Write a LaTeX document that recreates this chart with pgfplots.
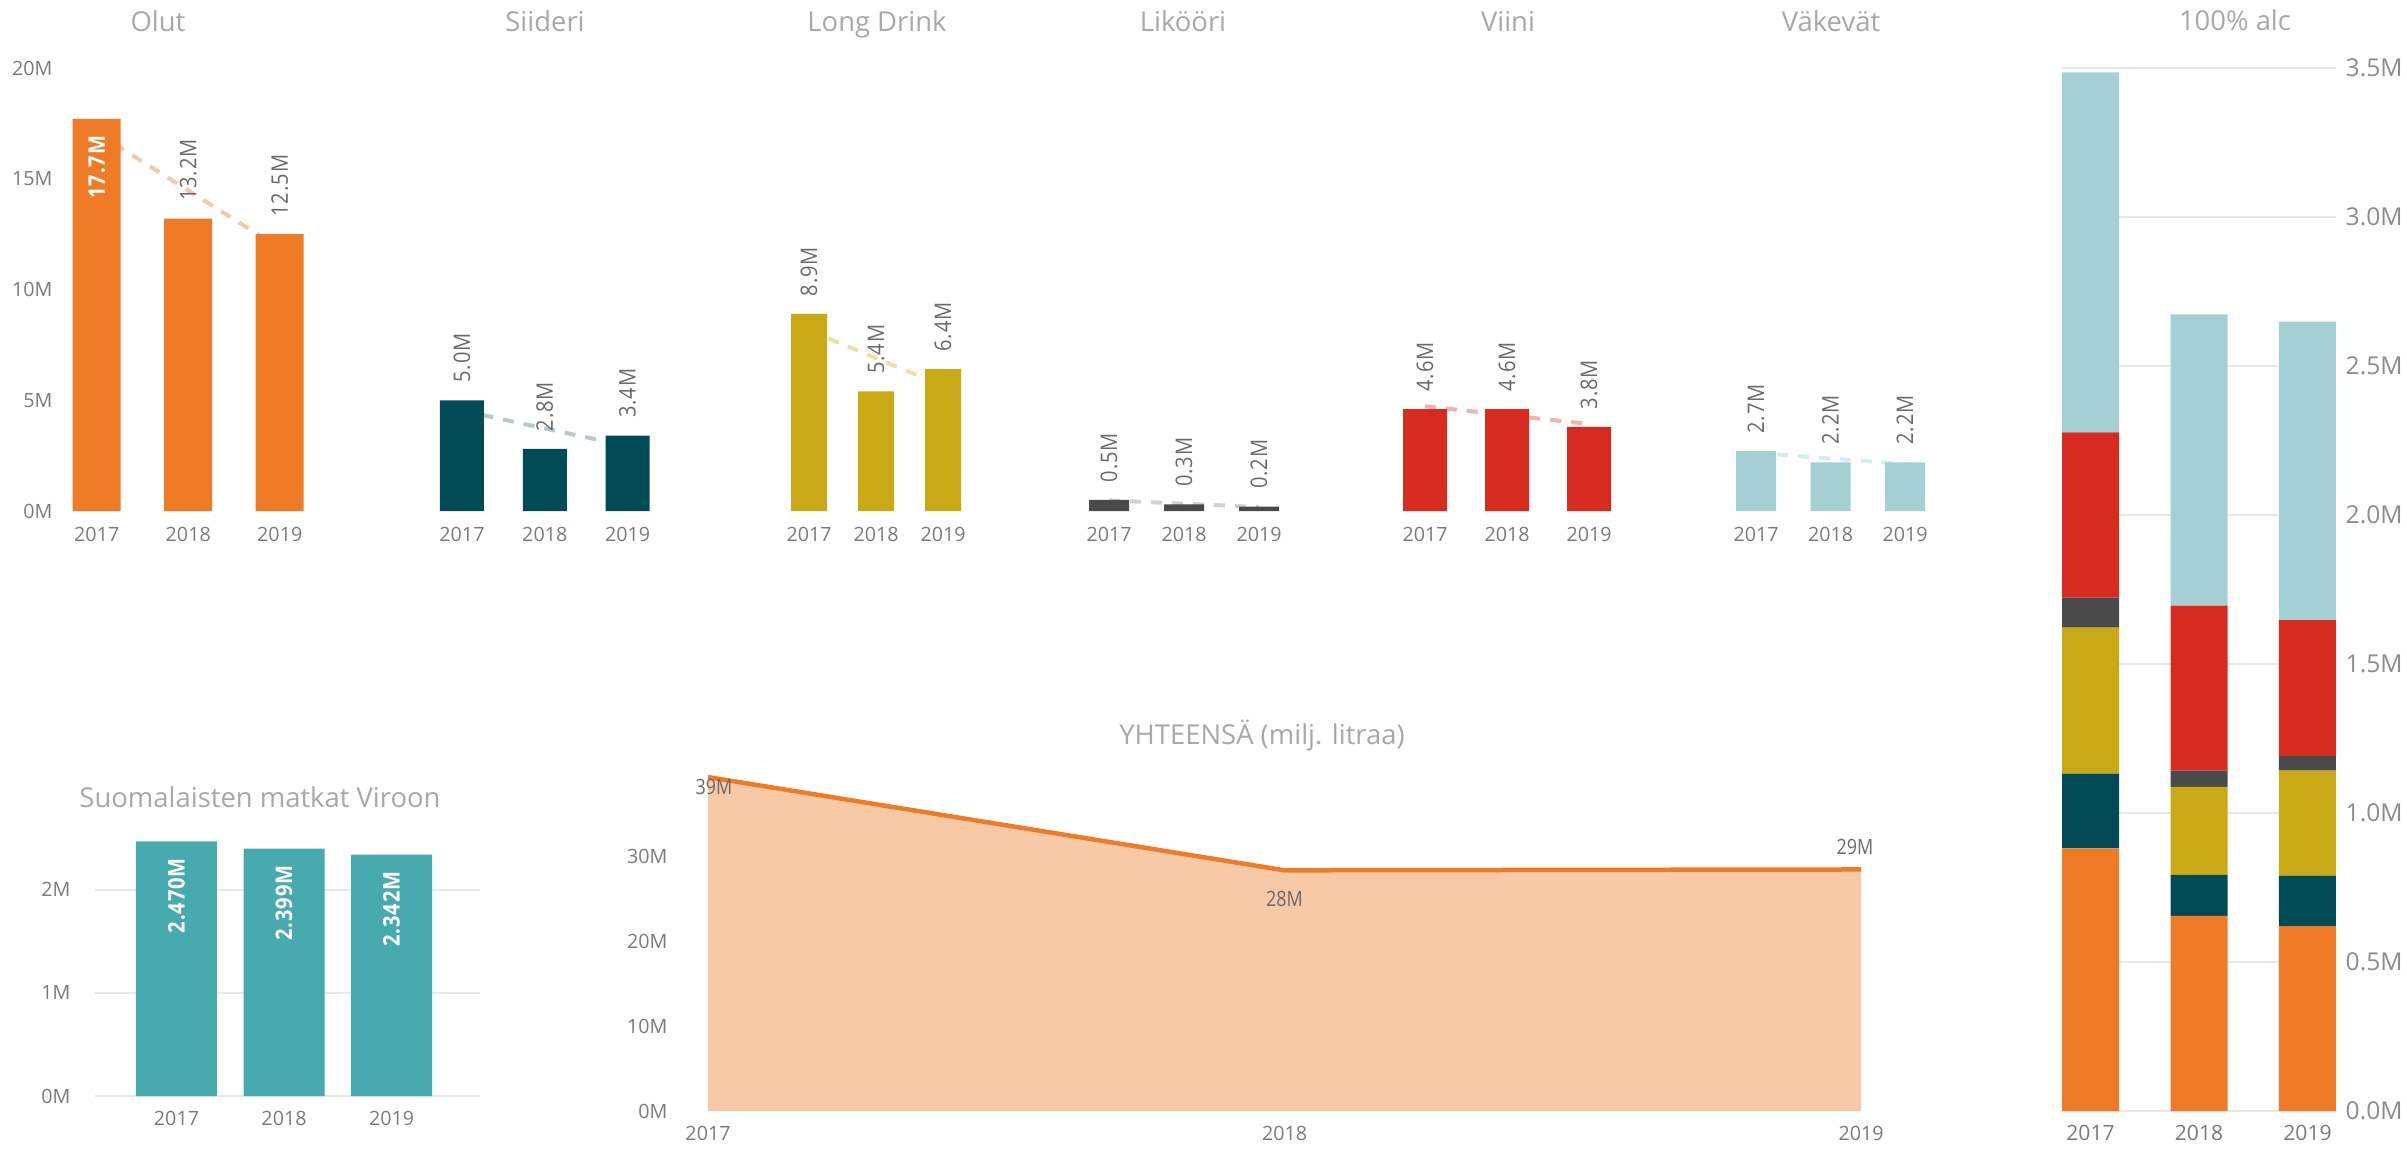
\documentclass[border=0pt]{standalone}
\usepackage{fontspec}
\setmainfont{Open Sans}
\newfontfamily\lbl[FakeStretch=0.88,LetterSpace=4]{Open Sans}
\newfontfamily\albl[FakeStretch=0.85]{Open Sans}
\usepackage{pgfplots}
\pgfplotsset{compat=1.18}

\definecolor{olut}{HTML}{F07B26}
\definecolor{sid}{HTML}{004B55}
\definecolor{ld}{HTML}{C9A915}
\definecolor{lik}{HTML}{4A4A4A}
\definecolor{vii}{HTML}{D72B20}
\definecolor{vak}{HTML}{A4CFD4}
\definecolor{trip}{HTML}{47AAAF}
\definecolor{areaf}{HTML}{F8C9A7}
\definecolor{gridc}{HTML}{E8E8E8}
\definecolor{tickc}{HTML}{7A7A7A}
\definecolor{tickr}{HTML}{8C8C8C}
\definecolor{lblc}{HTML}{6A6A6A}
\definecolor{titlec}{HTML}{A8A8A8}
\definecolor{olutT}{HTML}{F6C7A8}
\definecolor{sidT}{HTML}{B5C9CC}
\definecolor{ldT}{HTML}{EBE0A6}
\definecolor{likT}{HTML}{D2D2D2}
\definecolor{viiT}{HTML}{F2B3AE}
\definecolor{vakT}{HTML}{D6ECEE}

\newcommand\tickfont{\fontsize{5.6}{6}\selectfont}
\newcommand\rtickfont{\fontsize{7}{7.5}\selectfont}
\newcommand\rxtickfont{\fontsize{6}{7}\selectfont}
\newcommand\lblfont{\lbl\fontsize{6.5}{7.5}\selectfont}
\newcommand\alblfont{\albl\fontsize{6}{7}\selectfont}
\newcommand\titlefont{\fontsize{7.8}{9}\selectfont}

\tikzset{ttl/.style={font=\titlefont, text=titlec, anchor=base}}
\pgfplotsset{
  base/.style={scale only axis, clip=false, anchor=south west,
    axis line style={draw=none}, tick style={draw=none}, major tick length=0pt,
    ticklabel style={font=\tickfont, text=tickc, inner sep=0pt},
    xticklabel style={anchor=north}},
  top/.style={base, ymin=0, ymax=20, height=44.3mm, xmin=2016.5, xmax=2019.5,
    xtick={2017,2018,2019}, xticklabels={2017,2018,2019}, ytick=\empty,
    xticklabel style={yshift=-1.6mm}},
  trend/.style={line width=0.4mm, dash pattern=on 1.1mm off 1mm},
  above/.style={draw=none, nodes near coords={\pgfplotspointmeta}, point meta=explicit symbolic,
    every node near coord/.style={rotate=90, anchor=west, inner xsep=1.7mm, inner ysep=0pt,
      font=\lblfont, text=lblc}},
  inside/.style={draw=none, nodes near coords={\pgfplotspointmeta}, point meta=explicit symbolic,
    every node near coord/.style={rotate=90, anchor=east, inner xsep=1.6mm, inner ysep=0pt,
      font=\lblfont\bfseries, text=white}},
  bars/.style={ybar, bar shift=0pt, draw=none},
}

\begin{document}
\begin{tikzpicture}
\useasboundingbox (0,0) rectangle (240.7mm,-114.9mm);

% ---------- titles ----------
\node[ttl] at (15.8mm,-3.2mm) {Olut};
\node[ttl] at (54.5mm,-3.2mm) {Siideri};
\node[ttl] at (87.7mm,-3.2mm) {Long Drink};
\node[ttl] at (118.3mm,-3.2mm) {Likööri};
\node[ttl] at (150.8mm,-3.2mm) {Viini};
\node[ttl] at (183.1mm,-3.2mm) {Väkevät};
\node[ttl] at (223.5mm,-3.1mm) {100\% alc};
\node[ttl] at (26.0mm,-80.7mm) {Suomalaisten matkat Viroon};
\node[ttl] at (126.2mm,-74.4mm) {YHTEENSÄ (milj. litraa)};

% ---------- Olut ----------
\begin{axis}[top, at={(5.1mm,-51.1mm)}, width=27.45mm,
  ytick={0,5,10,15,20}, yticklabels={0M,5M,10M,15M,20M},
  yticklabel style={anchor=east, xshift=0.2mm}]
\addplot[trend, olutT] coordinates {(2017,17.07) (2019,11.87)};
\addplot[bars, bar width=4.8mm, fill=olut] coordinates {(2017,17.7) (2018,13.2) (2019,12.5)};
\addplot[inside] coordinates {(2017,17.7) [17.7M]};
\addplot[above] coordinates {(2018,13.2) [13.2M] (2019,12.5) [12.5M]};
\end{axis}

% ---------- Siideri ----------
\begin{axis}[top, at={(42.06mm,-51.1mm)}, width=24.83mm]
\addplot[trend, sidT] coordinates {(2017,4.53) (2019,2.93)};
\addplot[bars, bar width=4.4mm, fill=sid] coordinates {(2017,5.0) (2018,2.8) (2019,3.4)};
\addplot[above] coordinates {(2017,5.0) [5.0M] (2018,2.8) [2.8M] (2019,3.4) [3.4M]};
\end{axis}

% ---------- Long Drink ----------
\begin{axis}[top, at={(77.55mm,-51.1mm)}, width=20.1mm]
\addplot[trend, ldT] coordinates {(2017,8.15) (2019,5.65)};
\addplot[bars, bar width=3.6mm, fill=ld] coordinates {(2017,8.9) (2018,5.4) (2019,6.4)};
\addplot[above] coordinates {(2017,8.9) [8.9M] (2018,5.4) [5.4M] (2019,6.4) [6.4M]};
\end{axis}

% ---------- Likoori ----------
\begin{axis}[top, at={(107.15mm,-51.1mm)}, width=22.5mm]
\addplot[trend, likT] coordinates {(2017,0.48) (2019,0.18)};
\addplot[bars, bar width=4.0mm, fill=lik] coordinates {(2017,0.5) (2018,0.3) (2019,0.2)};
\addplot[above] coordinates {(2017,0.5) [0.5M] (2018,0.3) [0.3M] (2019,0.2) [0.2M]};
\end{axis}

% ---------- Viini ----------
\begin{axis}[top, at={(138.4mm,-51.1mm)}, width=24.6mm]
\addplot[trend, viiT] coordinates {(2017,4.73) (2019,3.93)};
\addplot[bars, bar width=4.4mm, fill=vii] coordinates {(2017,4.6) (2018,4.6) (2019,3.8)};
\addplot[above] coordinates {(2017,4.6) [4.6M] (2018,4.6) [4.6M] (2019,3.8) [3.8M]};
\end{axis}

% ---------- Vakevat ----------
\begin{axis}[top, at={(171.88mm,-51.1mm)}, width=22.35mm]
\addplot[trend, vakT] coordinates {(2017,2.62) (2019,2.12)};
\addplot[bars, bar width=4.0mm, fill=vak] coordinates {(2017,2.7) (2018,2.2) (2019,2.2)};
\addplot[above] coordinates {(2017,2.7) [2.7M] (2018,2.2) [2.2M] (2019,2.2) [2.2M]};
\end{axis}

% ---------- Suomalaisten matkat Viroon ----------
\begin{axis}[base, at={(9.5mm,-109.6mm)}, width=38.5mm, height=26.8mm,
  xmin=2016.242, xmax=2019.823, ymin=0, ymax=2.6,
  xtick={2017,2018,2019}, xticklabels={2017,2018,2019},
  xticklabel style={yshift=-1.5mm},
  ytick={0,1,2}, yticklabels={0M,1M,2M},
  yticklabel style={anchor=east, xshift=-2.4mm},
  ymajorgrids, grid style={gridc, line width=0.2mm}]
\addplot[bars, bar width=8.1mm, fill=trip] coordinates {(2017,2.470) (2018,2.399) (2019,2.342)};
\addplot[inside] coordinates {(2017,2.470) [2.470M] (2018,2.399) [2.399M] (2019,2.342) [2.342M]};
\end{axis}

% ---------- YHTEENSA area ----------
\begin{axis}[base, at={(70.8mm,-111.1mm)}, width=115.3mm, height=33.9mm,
  xmin=2017, xmax=2019, ymin=0, ymax=40,
  xtick={2017,2018,2019}, xticklabels={2017,2018,2019},
  xticklabel style={yshift=-1.5mm},
  ytick={0,10,20,30}, yticklabels={0M,10M,20M,30M},
  yticklabel style={anchor=east, xshift=-4mm}]
\addplot[fill=areaf, draw=none] coordinates {(2017,39.4) (2018,28.4) (2019,28.5)} \closedcycle;
\addplot[olut, line width=0.45mm] coordinates {(2017,39.4) (2018,28.4) (2019,28.5)};
\addplot[draw=none, nodes near coords={\pgfplotspointmeta}, point meta=explicit symbolic,
  every node near coord/.style={anchor=center, inner sep=0pt, xshift=0.6mm, yshift=-1.0mm, font=\alblfont, text=lblc}]
  coordinates {(2017,39.4) [39M]};
\addplot[draw=none, nodes near coords={\pgfplotspointmeta}, point meta=explicit symbolic,
  every node near coord/.style={anchor=north, inner sep=0pt, yshift=-2.0mm, font=\alblfont, text=lblc}]
  coordinates {(2018,28.4) [28M]};
\addplot[draw=none, nodes near coords={\pgfplotspointmeta}, point meta=explicit symbolic,
  every node near coord/.style={anchor=south, inner sep=0pt, xshift=-0.6mm, yshift=1.4mm, font=\alblfont, text=lblc}]
  coordinates {(2019,28.5) [29M]};
\end{axis}

% ---------- 100% alc stacked ----------
\begin{axis}[base, at={(206.2mm,-111.1mm)}, width=27.4mm, height=104.3mm,
  ybar stacked, bar width=5.7mm,
  xmin=2016.737, xmax=2019.263, ymin=0, ymax=3.5,
  xtick={2017,2018,2019}, xticklabels={2017,2018,2019},
  xticklabel style={yshift=-1.3mm, font=\rxtickfont},
  ytick={0,0.5,1,1.5,2,2.5,3,3.5},
  yticklabels={0.0M,0.5M,1.0M,1.5M,2.0M,2.5M,3.0M,3.5M},
  yticklabel pos=right, yticklabel style={anchor=west, xshift=0.9mm, font=\rtickfont, text=tickr},
  ymajorgrids, grid style={gridc, line width=0.2mm}]
\addplot[draw=none, fill=olut] coordinates {(2017,0.881) (2018,0.655) (2019,0.620)};
\addplot[draw=none, fill=sid] coordinates {(2017,0.251) (2018,0.137) (2019,0.170)};
\addplot[draw=none, fill=ld] coordinates {(2017,0.490) (2018,0.296) (2019,0.352)};
\addplot[draw=none, fill=lik] coordinates {(2017,0.101) (2018,0.054) (2019,0.049)};
\addplot[draw=none, fill=vii] coordinates {(2017,0.554) (2018,0.554) (2019,0.456)};
\addplot[draw=none, fill=vak] coordinates {(2017,1.208) (2018,0.977) (2019,1.002)};
\end{axis}

\end{tikzpicture}
\end{document}
